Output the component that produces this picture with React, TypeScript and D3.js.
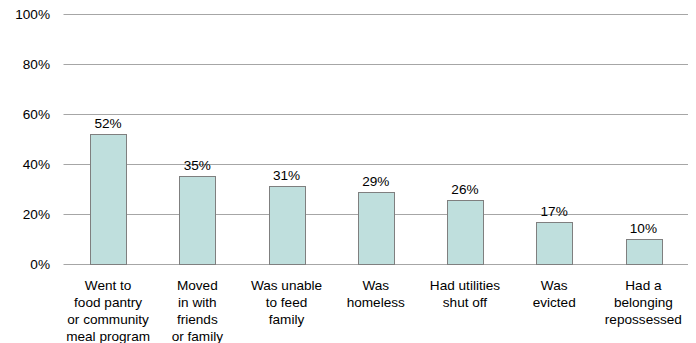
import React from "react";
import * as d3 from "d3";

const categories: string[][] = [
  ["Went to", "food pantry", "or community", "meal program"],
  ["Moved", "in with", "friends", "or family"],
  ["Was unable", "to feed", "family"],
  ["Was", "homeless"],
  ["Had utilities", "shut off"],
  ["Was", "evicted"],
  ["Had a", "belonging", "repossessed"],
];
const values: number[] = [51.9, 34.9, 31.1, 28.5, 25.5, 16.7, 9.8];
const yTicks: number[] = [0, 20, 40, 60, 80, 100];

const W = 696;
const H = 343;
const left = 63.5;
const right = 688;
const top = 14;
const bottom = 263.5;

export default function App() {
  const x = d3
    .scaleBand<number>()
    .domain(values.map((_, i) => i))
    .range([left, right])
    .paddingInner(0.6)
    .paddingOuter(0.3);
  const y = d3.scaleLinear().domain([0, 100]).range([bottom, top]);
  const font = "'Liberation Sans', Arial, sans-serif";
  const fs = 13.6;

  return (
    <svg
      width={W}
      height={H}
      style={{ position: "absolute", left: 0, top: 0, background: "#fff" }}
      fontFamily={font}
    >
      {yTicks.map((t) => {
        const yy = Math.round(y(t)) + 0.5;
        return (
          <g key={t}>
            <line x1={left} x2={right} y1={yy} y2={yy} stroke="#a6a6a6" strokeWidth={1} />
            <text x={50} y={yy} dy="0.35em" textAnchor="end" fontSize={fs} fill="#000">
              {t}%
            </text>
          </g>
        );
      })}
      {values.map((v, i) => {
        const bx = Math.round(x(i)!) + 0.5;
        const bw = Math.round(x.bandwidth());
        const by = Math.round(y(v)) + 0.5;
        const bh = Math.round(y(0)) + 0.5 - by;
        const cx = x(i)! + x.bandwidth() / 2;
        return (
          <g key={i}>
            <rect x={bx} y={by} width={bw} height={bh} fill="#bfdfdd" stroke="#7f7f7f" strokeWidth={1} />
            <text x={cx} y={y(v) - 6} textAnchor="middle" fontSize={fs} fill="#000">
              {Math.round(v)}%
            </text>
            <text x={cx} y={290} textAnchor="middle" fontSize={fs} fill="#000">
              {categories[i].map((line, j) => (
                <tspan key={j} x={cx} dy={j === 0 ? 0 : 17}>
                  {line}
                </tspan>
              ))}
            </text>
          </g>
        );
      })}
    </svg>
  );
}
